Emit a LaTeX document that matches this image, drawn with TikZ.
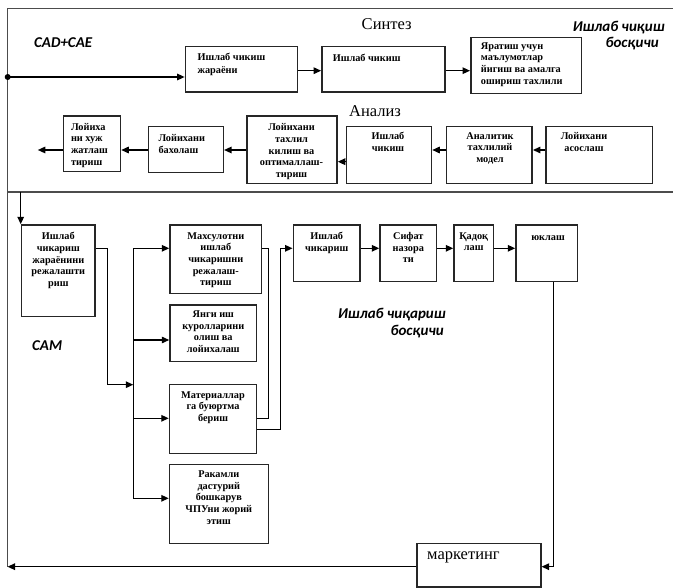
\documentclass[tikz,border=0pt]{standalone}
\usepackage{fontspec}
\setmainfont{Liberation Serif}
\newfontfamily\labfont{Carlito}
\usetikzlibrary{fit,arrows.meta}
\newcommand\bxf{\fontsize{10.3bp}{11.7bp}\selectfont\bfseries}
\newcommand\mybox[5]{\path (#2,#3) coordinate (#1-nw) (#4,#5) coordinate (#1-se);
  \node[box, fit=(#1-nw)(#1-se)] (#1) {};}
\begin{document}
\begin{tikzpicture}[x=1bp,y=-1bp,
  box/.style={draw=black!85, line width=1.5bp, inner sep=0pt},
  tc/.style={font=\bxf, align=center, inner sep=0pt, anchor=north, execute at begin node=\rule{0pt}{8bp}},
  tl/.style={font=\bxf, align=left, inner sep=0pt, anchor=north west, execute at begin node=\rule{0pt}{8bp}},
  ln/.style={line width=1.4bp, draw=black},
  arr/.style={ln, -{Triangle[length=7.5bp,width=6.5bp]}},
  frm/.style={draw=black!70, line width=1.8bp},
  big/.style={font=\fontsize{16.5bp}{18bp}\selectfont, inner sep=0pt},
  lab/.style={font=\labfont\bfseries\itshape\fontsize{15bp}{16.5bp}\selectfont, inner sep=0pt, align=right}
]
\useasboundingbox (0,0) rectangle (673,588);
% frame
\coordinate (ftl) at (7.5,8.5);
\coordinate (ftr) at (673,8.5);
\coordinate (fsl) at (7.5,192);
\coordinate (fsr) at (673,192);
\coordinate (lft) at (7.5,566.7);
\draw[frm] (ftr) -- (ftl) -- (lft);
\draw[frm] (fsl) -- (fsr);

% titles
\node[big] (syn) at (386.7,24) {Синтез};
\node[big] (ana) at (375,111.5) {Анализ};
\node[lab, anchor=west, align=left] (cad) at (34,42.5) {CAD+CAE};
\node[lab, anchor=east] (isb) at (665,35.5) {Ишлаб чиқиш\\босқичи\hspace*{6bp}};
\node[lab, anchor=west, align=left] (cam) at (32,346) {САМ};
\node[lab, anchor=east] (icb) at (446,323) {Ишлаб чиқариш\\босқичи\hspace*{2bp}};

% synthesis row
\mybox{A}{185.4}{46.7}{297.4}{92}
\mybox{B}{321.9}{46.7}{445}{92}
\mybox{C}{470.8}{37.7}{581.5}{93.3}
\node[tl] (At) at (197.4,52.5) {Ишлаб чикиш\\[1.5bp]жараёни};
\node[tl] (Bt) at (332.6,53.5) {Ишлаб чикиш};
\node[tl] (Ct) at (480.7,42.2) {Яратиш учун\\маълумотлар\\йигиш ва амалга\\ошириш тахлили};

\coordinate (dot) at (7.7,77);
\coordinate (ys) at (0,70.7);
\fill (dot) circle (3bp);
\draw[arr] (dot) -- (dot -| A.west);
\draw[arr] (A.east |- ys) -- (B.west |- ys);
\draw[arr] (B.east |- ys) -- (C.west |- ys);

% analysis row
\mybox{N1}{63.3}{116}{120.5}{171.7}
\mybox{N2}{148.3}{126.7}{223.3}{172.7}
\mybox{N3}{247}{116}{337}{183.7}
\mybox{N4}{346.7}{126.7}{431.5}{183.3}
\mybox{N5}{446.4}{126.7}{532.2}{183.3}
\mybox{N6}{546}{126.7}{652.4}{183.3}
\node[tl] (N1t) at (70.8,123) {Лойиха\\ни хуж\\жатлаш\\тириш};
\node[tl] (N2t) at (158.3,133.8) {Лойихани\\[0.7bp]бахолаш};
\node[tc] (N3t) at (291.5,123.5) {Лойихани\\тахлил\\килиш ва\\оптималлаш-\\тириш};
\node[tc] (N4t) at (388,132.2) {Ишлаб\\чикиш};
\node[tc] (N5t) at (490,132.2) {Аналитик\\тахлилий\\модел};
\node[tc] (N6t) at (584,132.2) {Лойихани\\асослаш};

\coordinate (ya) at (0,150);
\coordinate (yb) at (0,161.7);
\coordinate (aout) at (37.8,150);
\draw[arr] (N6.west |- ya) -- (N5.east |- ya);
\draw[arr] (N5.west |- ya) -- (N4.east |- ya);
\draw[arr] (N4.west |- yb) -- (N3.east |- yb);
\draw[arr] (N3.west |- ya) -- (N2.east |- ya);
\draw[arr] (N2.west |- ya) -- (N1.east |- ya);
\draw[arr] (N1.west |- ya) -- (aout);

% CAM part
\mybox{P}{21.7}{225}{95}{316.7}
\mybox{M1}{170}{225}{261.7}{293.3}
\mybox{M2}{170}{305}{256.7}{361.7}
\mybox{M3}{169.5}{384.3}{256.7}{453.3}
\mybox{M4}{169.5}{464.3}{268.3}{543.3}
\node[tc] (Pt) at (58.3,232.2) {Ишлаб\\чикариш\\жараёнини\\режалашти\\риш};
\node[tc] (M1t) at (215.8,232.2) {Махсулотни\\ишлаб\\чикаришни\\режалаш-\\тириш};
\node[tc] (M2t) at (213.3,310.5) {Янги иш\\куролларини\\олиш ва\\лойихалаш};
\node[tc] (M3t) at (213,391.2) {Материаллар\\га буюртма\\бериш};
\node[tc] (M4t) at (218.8,470.5) {Ракамли\\дастурий\\бошкарув\\ЧПУни жорий\\этиш};

\coordinate (sd) at (20.7,192);
\draw[arr] (sd) -- (sd |- P.north);

\coordinate (yrow) at (0,248.3);
\coordinate (k1) at (107.3,384.7);
\coordinate (tr1) at (133.3,248.3);
\coordinate (tr2) at (133.3,340);
\coordinate (tr3) at (133.3,418.3);
\coordinate (tr4) at (133.3,498.3);
\coordinate (trk) at (133.3,384.7);
\draw[arr] (P.east |- yrow) -| (k1) -- (trk);
\draw[ln] (tr1) -- (tr4);
\draw[arr] (tr1) -- (tr1 -| M1.west);
\draw[arr] (tr2) -- (tr2 -| M2.west);
\draw[arr] (tr3) -- (tr3 -| M3.west);
\draw[arr] (tr4) -- (tr4 -| M4.west);

\coordinate (v1) at (268.3,418.3);
\coordinate (v2) at (280.7,429.3);
\draw[ln] (M1.east |- yrow) -| (v1) -- (M3.east |- v1);

% production row
\mybox{Q1}{293.3}{225}{360}{281.7}
\mybox{Q2}{380}{225}{436.7}{281.7}
\mybox{Q3}{454}{225}{493.3}{281.7}
\mybox{Q4}{516}{225}{577.3}{281.7}
\node[tc] (Q1t) at (326.7,232.2) {Ишлаб\\чикариш};
\node[tc] (Q2t) at (408.3,232.2) {Сифат\\назора\\ти};
\node[tc] (Q3t) at (473.7,232.2) {Қадоқ\\лаш};
\node[tc] (Q4t) at (548,232.2) {юклаш};

\draw[arr] (M3.east |- v2) -- (v2) |- (Q1.west |- yrow);
\draw[arr] (Q1.east |- yrow) -- (Q2.west |- yrow);
\draw[arr] (Q2.east |- yrow) -- (Q3.west |- yrow);
\draw[arr] (Q3.east |- yrow) -- (Q4.west |- yrow);

% marketing
\mybox{MK}{417.2}{543.3}{540.8}{587}
\node[big, anchor=west] (MKt) at (427,557) {маркетинг};
\coordinate (q4d) at (553.3,566.7);
\draw[arr] (Q4.south -| q4d) -- (q4d) -- (MK.east |- q4d);
\draw[arr] (MK.west |- q4d) -- (lft);
\end{tikzpicture}
\end{document}
